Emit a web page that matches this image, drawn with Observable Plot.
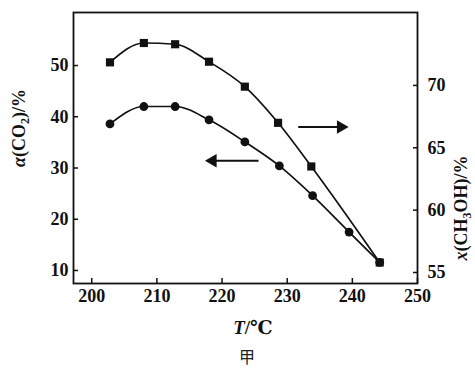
<!DOCTYPE html>
<html>
<head>
<meta charset="utf-8">
<script src="https://cdn.jsdelivr.net/npm/d3@7"></script>
<script src="https://cdn.jsdelivr.net/npm/@observablehq/plot@0.6"></script>
<style>
  html, body { margin: 0; padding: 0; background: #fff; }
  #chart svg { display: block; }
</style>
</head>
<body>
<div id="chart"></div>
<script>
// Temperatures (°C)
const tempsAlpha = [202.8, 208, 212.8, 218, 223.5, 228.8, 233.9, 239.5, 244.2];
// α(CO2) / %  (left axis, circles)
const alphaCO2 = [38.6, 42.0, 42.0, 39.4, 35.1, 30.4, 24.6, 17.5, 11.6];
const tempsX = [202.8, 208, 212.8, 218, 223.5, 228.6, 233.7, 244.2];
// x(CH3OH) / %  (right axis, squares)
const xCH3OH = [71.85, 73.4, 73.3, 71.9, 69.9, 67.0, 63.5, 55.8];

const xTicks = [200, 210, 220, 230, 240, 250];
const leftTicks = [10, 20, 30, 40, 50];
const rightTicks = [55, 60, 65, 70];

// mapping right-axis values onto left-axis units
const toLeft = r => 9.61 + (r - 55) * 2.434;
const fromLeft = l => 55 + (l - 9.61) / 2.434;

const alphaData = tempsAlpha.map((t, i) => ({t, v: alphaCO2[i]}));
const xData = tempsX.map((t, i) => ({t, v: toLeft(xCH3OH[i])}));

// direction arrows (annotation): tail x, tip x, y (left-axis units), head rotation
const arrows = [
  {x1: 225.6, x2: 217.8, y: 31.4, rot: -90},
  {x1: 231.7, x2: 239.0, y: 38.0, rot: 90}
];

const fontSerif = "'Liberation Serif', 'DejaVu Serif', serif";
const axisStyle = {stroke: "#111", strokeWidth: 1.5, fill: "#111", fontSize: 18, fontWeight: "bold", label: null};

const plot = Plot.plot({
  width: 475,
  height: 369,
  marginLeft: 73,
  marginRight: 58,
  marginTop: 12,
  marginBottom: 86,
  style: {fontFamily: fontSerif, fontSize: "18px", color: "#111", background: "#fff"},
  x: {domain: [197.2, 250], label: null},
  y: {domain: [7.46, 60.35], label: null},
  marks: [
    Plot.frame({stroke: "#111", strokeWidth: 1.8}),
    Plot.axisX(xTicks, {anchor: "bottom", tickSize: -5, tickPadding: 11, ...axisStyle}),
    Plot.axisY(leftTicks, {anchor: "left", tickSize: -5, tickPadding: 10, ...axisStyle}),
    Plot.axisY(rightTicks.map(toLeft), {anchor: "right", tickSize: -5, tickPadding: 15, tickFormat: d => String(Math.round(fromLeft(d))), ...axisStyle}),
    Plot.line(alphaData, {x: "t", y: "v", curve: "monotone-x", stroke: "#111", strokeWidth: 1.7}),
    Plot.line(xData, {x: "t", y: "v", curve: "monotone-x", stroke: "#111", strokeWidth: 1.7}),
    Plot.dot(alphaData, {x: "t", y: "v", r: 4.4, fill: "#111", stroke: "none"}),
    Plot.dot(xData, {x: "t", y: "v", symbol: "square", r: 4.6, fill: "#111", stroke: "none"}),
    Plot.link(arrows, {x1: "x1", y1: "y", x2: "x2", y2: "y", stroke: "#111", strokeWidth: 2}),
    Plot.dot(arrows, {x: "x2", y: "y", dx: 5, symbol: "triangle", r: 5, rotate: -90, fill: "#111", stroke: "none", filter: d => d.rot < 0}),
    Plot.dot(arrows, {x: "x2", y: "y", dx: -5, symbol: "triangle", r: 5, rotate: 90, fill: "#111", stroke: "none", filter: d => d.rot > 0})
  ]
});

document.getElementById("chart").appendChild(plot);

const svg = d3.select(plot);
// left y title
const lt = svg.append("text")
  .attr("transform", "translate(25,128) rotate(-90)")
  .attr("text-anchor", "middle")
  .attr("font-family", fontSerif)
  .attr("font-size", 18)
  .attr("font-weight", "bold")
  .attr("fill", "#111");
lt.append("tspan").attr("font-style", "italic").text("α");
lt.append("tspan").text("(CO");
lt.append("tspan").attr("font-size", 12).attr("dy", 4).text("2");
lt.append("tspan").attr("dy", -4).text(")/%");

// right y title
const rt = svg.append("text")
  .attr("transform", "translate(467,208) rotate(-90)")
  .attr("text-anchor", "middle")
  .attr("font-family", fontSerif)
  .attr("font-size", 18)
  .attr("font-weight", "bold")
  .attr("fill", "#111");
rt.append("tspan").attr("font-style", "italic").text("x");
rt.append("tspan").text("(CH");
rt.append("tspan").attr("font-size", 12).attr("dy", 4).text("3");
rt.append("tspan").attr("dy", -4).text("OH)/%");

// x title
const xt = svg.append("text")
  .attr("x", 253).attr("y", 334)
  .attr("text-anchor", "middle")
  .attr("font-family", fontSerif)
  .attr("font-size", 19)
  .attr("font-weight", "bold")
  .attr("fill", "#111");
xt.append("tspan").attr("font-style", "italic").text("T");
xt.append("tspan").text("/℃");

// panel label
svg.append("text")
  .attr("x", 247).attr("y", 363)
  .attr("text-anchor", "middle")
  .attr("font-family", "'Noto Sans CJK SC', sans-serif")
  .attr("font-size", 16)
  .attr("fill", "#222")
  .text("甲");
</script>
</body>
</html>
